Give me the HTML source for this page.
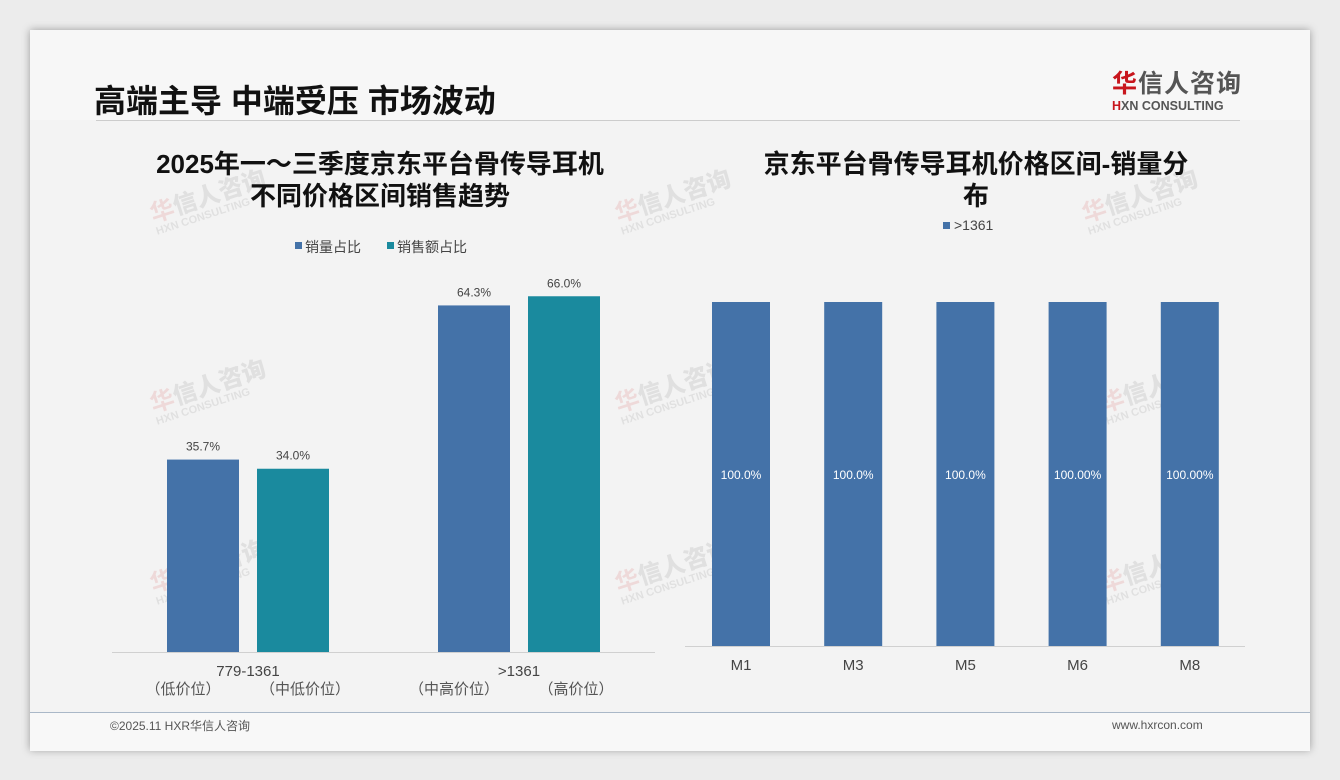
<!DOCTYPE html>
<html><head><meta charset="utf-8"><style>
body{margin:0;width:1340px;height:780px;background:#ececec;font-family:"Liberation Sans","Noto Sans CJK SC",sans-serif;position:relative;overflow:hidden}
#slide{position:absolute;left:30px;top:30px;width:1280px;height:720px;background:#f3f3f3;box-shadow:0 0 8px rgba(0,0,0,.35)}
.abs{position:absolute}
.wm{position:absolute;transform:rotate(-18deg);opacity:.1;font-weight:bold;line-height:1}
.wm .a{font-size:24px;color:#c00}.wm .a b{color:#444}
.wm .b{font-size:11px;color:#444}
</style></head><body>
<div id="slide">
 <div class="abs" style="left:0;top:0;width:1280px;height:90px;background:#f7f7f7"></div>
 <div class="abs" style="left:64px;top:46px;font-size:32px;font-weight:bold;color:#111">高端主导 中端受压 市场波动</div>
 <div class="abs" style="left:1082px;top:34px;text-align:left">
  <div style="font-size:25px;font-weight:bold;color:#555;letter-spacing:1px"><span style="color:#c8161d">华</span>信人咨询</div>
  <div style="font-size:12.5px;font-weight:bold;color:#555;margin-top:-1px"><span style="color:#c8161d">H</span>XN CONSULTING</div>
 </div>
 <div class="abs" style="left:66px;top:90px;width:1144px;height:1px;background:#ccc"></div>
 <div class="abs" style="left:0;top:682px;width:1280px;height:38px;background:#f8f8f8;border-top:1px solid #aab8c8"></div>
 <div class="abs" style="left:80px;top:687px;font-size:12px;color:#555">©2025.11 HXR华信人咨询</div>
 <div class="abs" style="left:1082px;top:688px;font-size:12px;color:#555">www.hxrcon.com</div>
</div>
<div id="wms"></div>
<svg id="chart" class="abs" style="left:0;top:0" width="1340" height="780"></svg>
<script>
// left chart data
const leftCats=["779-1361",">1361"];
const leftSub=[["（低价位）","（中低价位）"],["（中高价位）","（高价位）"]];
const volShare=[35.7,64.3];
const amtShare=[34.0,66.0];
const volLabels=["35.7%","64.3%"];
const amtLabels=["34.0%","66.0%"];
// right chart data
const rightCats=["M1","M3","M5","M6","M8"];
const rightVals=[100,100,100,100,100];
const rightLabels=["100.0%","100.0%","100.0%","100.00%","100.00%"];

const NS="http://www.w3.org/2000/svg";
const svg=document.getElementById('chart');
function mk(t,a,txt){const e=document.createElementNS(NS,t);for(const k in a)e.setAttribute(k,a[k]);if(txt!=null)e.textContent=txt;svg.appendChild(e);return e;}
const F='"Liberation Sans","Noto Sans CJK SC",sans-serif';
// watermarks
const wm=document.getElementById('wms');
[[150,185],[615,185],[1082,185],[150,375],[615,375],[1100,375],[150,555],[615,555],[1100,555]].forEach(p=>{
 const d=document.createElement('div');d.className='wm';d.style.left=p[0]+'px';d.style.top=p[1]+'px';
 d.innerHTML='<div class="a">华<b>信人咨询</b></div><div class="b">HXN CONSULTING</div>';
 
 
 wm.appendChild(d);});
// left titles
let t=mk('text',{x:380,y:173,'text-anchor':'middle','font-size':26,'font-weight':'bold',fill:'#111','font-family':F},'2025年一～三季度京东平台骨传导耳机');

t=mk('text',{x:380,y:205,'text-anchor':'middle','font-size':26,'font-weight':'bold',fill:'#111','font-family':F},'不同价格区间销售趋势');

// legend
let r=mk('rect',{x:295,y:242,width:7,height:7,fill:'#4472a8'});
t=mk('text',{x:305,y:252,'font-size':14,fill:'#444','font-family':F},'销量占比');
r=mk('rect',{x:387,y:242,width:7,height:7,fill:'#1a8a9e'});
t=mk('text',{x:397,y:252,'font-size':14,fill:'#444','font-family':F},'销售额占比');
// left axis
const lBase=652,lScale=5.39;
const ly=v=>lBase-v*lScale;
const groupX=[167,438];
let l=mk('line',{x1:112,x2:655,y1:lBase+0.5,y2:lBase+0.5,stroke:'#d0d0d0'});
leftCats.forEach((c,i)=>{
 const x0=groupX[i];
 let b=mk('rect',{x:x0,y:ly(volShare[i]),width:72,height:volShare[i]*lScale,fill:'#4472a8'});
 
 b=mk('rect',{x:x0+90,y:ly(amtShare[i]),width:72,height:amtShare[i]*lScale,fill:'#1a8a9e'});
 
 let s=mk('text',{x:x0+36,y:ly(volShare[i])-9,'text-anchor':'middle','font-size':12,fill:'#444','font-family':F},volLabels[i]);
 
 s=mk('text',{x:x0+126,y:ly(amtShare[i])-9,'text-anchor':'middle','font-size':12,fill:'#444','font-family':F},amtLabels[i]);
 
 s=mk('text',{x:x0+81,y:676,'text-anchor':'middle','font-size':15,fill:'#444','font-family':F},c);
 
 s=mk('text',{x:x0+16,y:694,'text-anchor':'middle','font-size':15,fill:'#555','font-family':F},leftSub[i][0]);
 
 s=mk('text',{x:x0+138,y:694,'text-anchor':'middle','font-size':15,fill:'#555','font-family':F},leftSub[i][1]);
 
});
// right title
t=mk('text',{x:976,y:173,'text-anchor':'middle','font-size':26,'font-weight':'bold',fill:'#111','font-family':F},'京东平台骨传导耳机价格区间-销量分');

t=mk('text',{x:976,y:205,'text-anchor':'middle','font-size':26,'font-weight':'bold',fill:'#111','font-family':F},'布');

r=mk('rect',{x:943,y:222,width:7,height:7,fill:'#4472a8'});
t=mk('text',{x:954,y:230,'font-size':14,fill:'#444','font-family':F},'>1361');
const rBase=646,rScale=3.44,rStart=741,rStep=112.2;
const ry=v=>rBase-v*rScale;
l=mk('line',{x1:685,x2:1245,y1:rBase+0.5,y2:rBase+0.5,stroke:'#d0d0d0'});
rightCats.forEach((c,i)=>{
 const cx=rStart+i*rStep;
 let b=mk('rect',{x:cx-29,y:ry(rightVals[i]),width:58,height:rightVals[i]*rScale,fill:'#4472a8'});
 
 let s=mk('text',{x:cx,y:(ry(rightVals[i])+rBase)/2+5,'text-anchor':'middle','font-size':12,fill:'#fff','font-family':F},rightLabels[i]);
 
 s=mk('text',{x:cx,y:670,'text-anchor':'middle','font-size':15,fill:'#444','font-family':F},c);
 
});
</script>
</body></html>
